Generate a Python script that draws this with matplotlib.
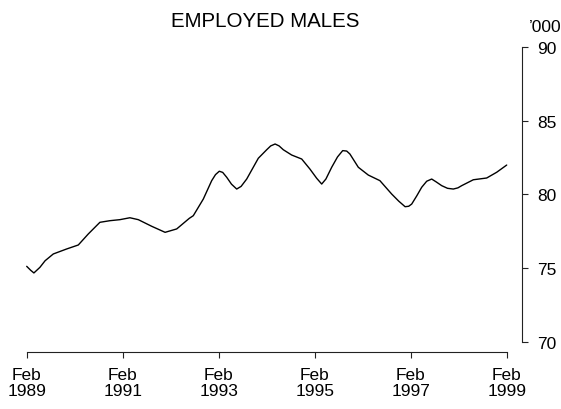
import matplotlib
matplotlib.use("Agg")
import matplotlib.pyplot as plt

plt.rcParams['font.family'] = ['Liberation Sans', 'DejaVu Sans']

# Months after Feb 1989, and employed males ('000)
months = [0, 1, 1.8, 3.3, 4.6, 6.65, 10, 12.9, 15.4, 18.3, 20.8, 23.3, 25.8,
          27.9, 31.25, 34.6, 37.5, 40.65, 41.65, 44.15, 46.25, 47.2, 48.15,
          49, 50, 51.2, 52.5, 53.6, 55, 57.9, 60, 61, 62.1, 63.1, 64.15,
          66.25, 68.75, 70.8, 72.5, 73.75, 74.8, 76.25, 77.7, 79, 80, 80.8,
          82.9, 85.4, 88.3, 91.25, 93, 94.6, 95.5, 96.25, 97.5, 98.75, 100,
          101.25, 102.4, 103.75, 105.2, 106.65, 107.8, 108.75, 111.65, 115,
          117.5, 120]
employed = [75.12, 74.85, 74.67, 75.05, 75.5, 75.96, 76.3, 76.57, 77.32,
            78.11, 78.22, 78.29, 78.42, 78.29, 77.84, 77.43, 77.66, 78.38,
            78.56, 79.69, 80.94, 81.35, 81.58, 81.5, 81.17, 80.7, 80.37,
            80.55, 81.05, 82.46, 83.04, 83.3, 83.43, 83.3, 83.04, 82.68,
            82.41, 81.73, 81.1, 80.71, 81.05, 81.85, 82.55, 82.98, 82.95,
            82.75, 81.85, 81.32, 80.94, 80.03, 79.55, 79.17, 79.2, 79.35,
            79.9, 80.49, 80.9, 81.05, 80.85, 80.6, 80.42, 80.37, 80.45, 80.6,
            81.0, 81.12, 81.51, 82.0]

xtick_pos = [0, 24, 48, 72, 96, 120]
xtick_labels = ["Feb\n1989", "Feb\n1991", "Feb\n1993", "Feb\n1995",
                "Feb\n1997", "Feb\n1999"]
ytick_pos = [70, 75, 80, 85, 90]

W, H = 561, 410
fig = plt.figure(figsize=(W / 100, H / 100), dpi=100)
# plot region in pixels: left 7.5, right 522.3, top 36.5, bottom 353.3
ax = fig.add_axes([7.5 / W, (H - 353.3) / H, (522.3 - 7.5) / W, (353.3 - 36.5) / H])

ax.plot(months, employed, color='black', lw=1.0,
        solid_joinstyle='round', solid_capstyle='round')

ax.set_xlim(-4.8, 123.9)
ax.set_ylim(69.28, 90.8)

for s in ['top', 'left']:
    ax.spines[s].set_visible(False)
ax.spines['bottom'].set_bounds(0, 120)
ax.spines['right'].set_bounds(70, 90)
for s in ['bottom', 'right']:
    ax.spines[s].set_linewidth(0.8)
    ax.spines[s].set_color('#222222')

ax.yaxis.tick_right()
ax.set_xticks(xtick_pos)
ax.set_xticklabels(xtick_labels, fontsize=12.5, linespacing=1.15)
ax.set_yticks(ytick_pos)
ax.set_yticklabels([str(v) for v in ytick_pos], fontsize=12.5)
ax.tick_params(axis='x', length=4.3, width=0.8, color='#222222', pad=6.0)
ax.tick_params(axis='y', length=4.3, width=0.8, color='#222222', pad=6.5)

fig.text(265.0 / W, (H - 26.7) / H, "EMPLOYED MALES", fontsize=14.8,
         ha='center', va='baseline')
fig.text(529.0 / W, (H - 32.0) / H, "\u2019000", fontsize=12.5,
         ha='left', va='baseline')

fig.savefig("out.png", dpi=100)
